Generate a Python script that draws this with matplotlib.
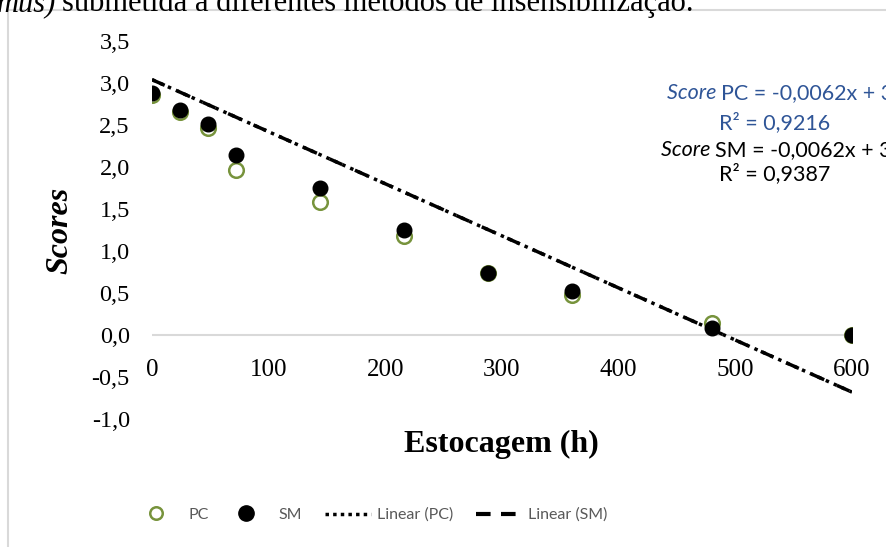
import numpy as np
import matplotlib
matplotlib.use("Agg")
import matplotlib.pyplot as plt
from matplotlib.lines import Line2D
from matplotlib.patches import Rectangle

# storage time (h)
horas = [0, 24, 48, 72, 144, 216, 288, 360, 480, 600]
score_pc = [2.86, 2.65, 2.47, 1.97, 1.58, 1.18, 0.74, 0.48, 0.14, 0.0]
score_sm = [2.88, 2.68, 2.51, 2.14, 1.75, 1.25, 0.74, 0.52, 0.08, 0.0]

# trendline coefficients (slope, intercept) as printed on the chart
coef_pc = (-0.0062, 3.04)
coef_sm = (-0.0062, 3.04)

yticks = [-1.0, -0.5, 0.0, 0.5, 1.0, 1.5, 2.0, 2.5, 3.0, 3.5]
xticks = [0, 100, 200, 300, 400, 500, 600]

serif = "Liberation Serif"
sans = "Lato"
green = "#77933C"
blue = "#2F5597"
gray = "#595959"

fig = plt.figure(figsize=(8.87, 5.47), dpi=100)
W, H = 887, 547

# chart frame (runs off the right / bottom edge)
fig.patches.append(Rectangle((8 / W, -0.1), 1.2, 1 - 10 / H + 0.1,
                             transform=fig.transFigure, fill=False,
                             edgecolor="#D9D9D9", linewidth=1.5))

# caption of the page above, cut by the crop
fig.text(-3 / W, 1 - 11 / H, "mus)", family=serif, style="italic", fontsize=22,
         ha="left", va="baseline")
fig.text(62 / W, 1 - 11 / H, "submetida a diferentes métodos de insensibilização.",
         family=serif, fontsize=22, ha="left", va="baseline")

ax = fig.add_axes([152 / W, 1 - 419 / H, 700 / W, 378 / H])
ax.set_xlim(0, 600)
ax.set_ylim(-1.0, 3.5)
ax.spines["bottom"].set_position(("data", 0))
for s in ax.spines.values():
    s.set_visible(False)
ax.axhline(0, color="#D9D9D9", linewidth=1.5, zorder=0)
ax.tick_params(length=0)

ax.set_yticks(yticks)
ax.set_yticklabels([f"{v:.1f}".replace(".", ",") for v in yticks],
                   family=serif, fontsize=17.5)
ax.tick_params(axis="y", pad=16)
ax.set_xticks(xticks)
ax.set_xticklabels([str(v) for v in xticks], family=serif, fontsize=18)
ax.tick_params(axis="x", pad=17)

xx = np.array([0, 600])
ax.plot(xx, coef_pc[0] * xx + coef_pc[1], color="black", linewidth=2.5,
        linestyle=(0, (1, 1.5)), zorder=2)
ax.plot(xx, coef_sm[0] * xx + coef_sm[1], color="black", linewidth=2.5,
        linestyle=(0, (4, 4)), zorder=2)

ax.plot(horas, score_pc, linestyle="none", marker="o", markersize=10.5,
        markerfacecolor="white", markeredgecolor=green, markeredgewidth=1.8, zorder=3)
ax.plot(horas, score_sm, linestyle="none", marker="o", markersize=10.5,
        markerfacecolor="black", markeredgecolor="black", zorder=4)

fig.text(501 / W, 1 - 444 / H, "Estocagem (h)", family=serif, weight="bold",
         fontsize=23, ha="center", va="center")
fig.text(60 / W, 1 - 230 / H, "Scores", family=serif, weight="bold",
         style="italic", fontsize=23, rotation=90, ha="center", va="center")

# trendline equations: italic "Score" followed by the rest of the label
fig.canvas.draw()
renderer = fig.canvas.get_renderer()
eqs = [(667, 93, blue, "PC = -0,0062x + 3,0397", "R² = 0,9216", 123),
       (661, 150, "black", "SM = -0,0062x + 3,0425", "R² = 0,9387", 174)]
for x0, y0, col, rest, r2, yr in eqs:
    t = fig.text(x0 / W, 1 - y0 / H, "Score ", color=col, fontsize=15.5,
                 family=sans, style="italic", ha="left", va="center")
    bb = t.get_window_extent(renderer)
    fig.text(bb.x1 / W, 1 - y0 / H, rest, color=col, fontsize=15.5, family=sans,
             ha="left", va="center")
    fig.text(775 / W, 1 - yr / H, r2, color=col, fontsize=15.5, family=sans,
             ha="center", va="center")

# legend: one entry at a time so each sits where the reference has it
handles = [
    Line2D([], [], linestyle="none", marker="o", markersize=9,
           markerfacecolor="white", markeredgecolor=green, markeredgewidth=1.8),
    Line2D([], [], linestyle="none", marker="o", markersize=11,
           markerfacecolor="black", markeredgecolor="black"),
    Line2D([], [], color="black", linewidth=2.5, linestyle=(0, (1, 1.2))),
    Line2D([], [], color="black", linewidth=3, linestyle=(0, (3.5, 2.5))),
]
labels = ["PC", "SM", "Linear (PC)", "Linear (SM)"]
leg_x = [133, 223, 325, 476]
leg_pad = [0.6, 0.6, 0.35, 0.35]
for h, lab, lx, pad in zip(handles, labels, leg_x, leg_pad):
    leg = fig.legend([h], [lab], loc="center left", bbox_to_anchor=(lx / W, 1 - 515 / H),
                     frameon=False, prop={"family": sans, "size": 11.5},
                     handlelength=2.9, handletextpad=pad, borderpad=0,
                     borderaxespad=0)
    leg.get_texts()[0].set_color(gray)

fig.savefig("out.png", dpi=100)
